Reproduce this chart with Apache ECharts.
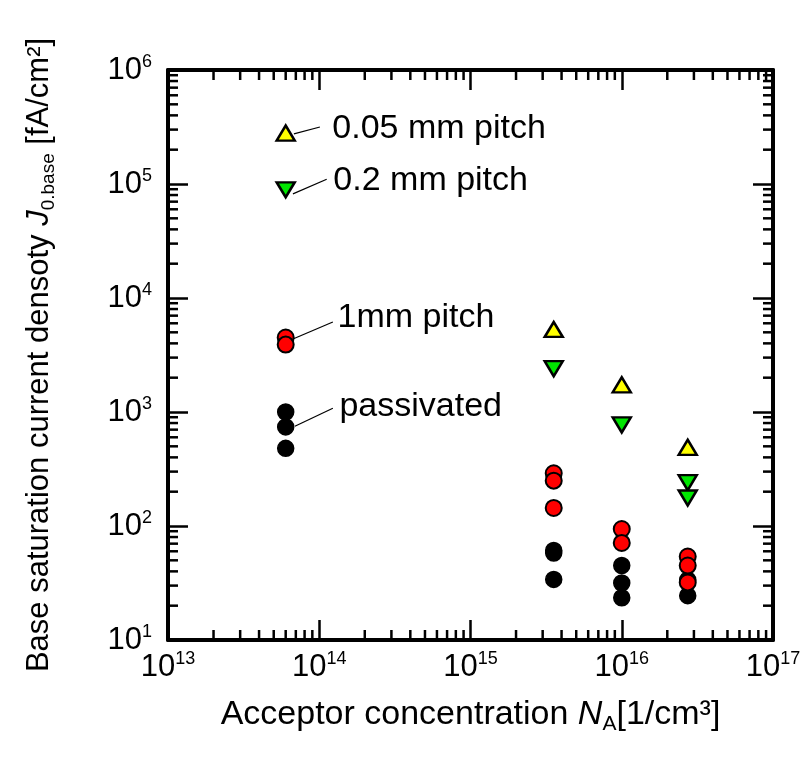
<!DOCTYPE html>
<html lang="en">
<head>
    <meta charset="UTF-8">
    <title>Base saturation current density</title>
    <script src="https://cdn.jsdelivr.net/npm/echarts@6/dist/echarts.min.js"></script>
</head>
<style>
    html, body { margin: 0; padding: 0; background: #fff; }
    #chart { width: 811px; height: 764px; }
</style>
<body>
    <div id="chart"></div>
</body>
<script>
    // data: [N_A (1/cm3), J0.base (fA/cm2)]
    var pitch005 = [[6.0e13, 2.8e5], [3.55e15, 5.3e3], [1.0e16, 1.73e3], [2.73e16, 4.9e2]];
    var pitch02 = [[6.0e13, 8.9e4], [3.55e15, 2.4e3], [1.0e16, 7.7e2], [2.73e16, 2.4e2], [2.73e16, 1.76e2]];
    var pitch1 = [[6.0e13, 4.5e3], [6.0e13, 3.9e3], [3.55e15, 2.9e2], [3.55e15, 2.5e2], [3.55e15, 1.44e2],
        [1.0e16, 94], [1.0e16, 71], [2.73e16, 54], [2.73e16, 45], [2.73e16, 32]];
    var passivated = [[6.0e13, 1.0e3], [6.0e13, 7.4e2], [6.0e13, 4.8e2], [3.55e15, 61], [3.55e15, 58], [3.55e15, 34],
        [1.0e16, 45], [1.0e16, 31.6], [1.0e16, 23.5], [2.73e16, 33.6], [2.73e16, 24.5]];

    // annotations
    var noteNames = ['0.05 mm pitch', '0.2 mm pitch', '1mm pitch', 'passivated'];
    var notePos = [[1.21e14, 3.03e5], [1.23e14, 1.06e5], [1.31e14, 6.68e3], [1.35e14, 1.11e3]];
    var leaders = [
        [[6.8e13, 2.75e5], [1.01e14, 3.16e5]],
        [[6.7e13, 8.2e4], [1.12e14, 1.1e5]],
        [[6.7e13, 4.37e3], [1.23e14, 6.15e3]],
        [[6.9e13, 7.5e2], [1.23e14, 1.08e3]]
    ];

    // axes
    var xRange = [1e13, 1e17];
    var yRange = [1e1, 1e6];
    var xDecades = [13, 14, 15, 16];
    var yDecades = [1, 2, 3, 4, 5];
    var minorSteps = [2, 3, 4, 5, 6, 7, 8, 9];

    var FONT = 'Liberation Sans, Arial, sans-serif';
    var chart = echarts.init(document.getElementById('chart'));

    var xMinor = [], yMinor = [];
    xDecades.forEach(function (d) {
        minorSteps.forEach(function (m) { xMinor.push([m * Math.pow(10, d), yRange[1]]); });
    });
    yDecades.forEach(function (d) {
        minorSteps.forEach(function (m) { yMinor.push([xRange[0], m * Math.pow(10, d)]); });
    });

    function tickLabel(v) {
        var e = Math.round(Math.log10(v));
        return '{b|10}{p|' + e + '}';
    }
    var labelRich = {
        b: { fontSize: 31, fontFamily: FONT, color: '#000', lineHeight: 34 },
        p: { fontSize: 18, fontFamily: FONT, color: '#000', lineHeight: 21, verticalAlign: 'top' }
    };
    function titleRich(size) {
        return {
            t: { fontSize: size, fontFamily: FONT, color: '#000', lineHeight: size + 6 },
            i: { fontSize: size, fontFamily: FONT, color: '#000', lineHeight: size + 6, fontStyle: 'italic' },
            s: { fontSize: Math.round(size * 0.62), fontFamily: FONT, color: '#000',
                lineHeight: Math.round(size * 0.62), verticalAlign: 'bottom' }
        };
    }
    var frame = { show: true, lineStyle: { color: '#000', width: 4 } };
    var majorTick = { show: true, inside: true, length: 20, lineStyle: { color: '#000', width: 2.5 } };

    function minorRender(dir) {
        return function (params, api) {
            var cs = params.coordSys;
            var p = api.coord([api.value(0), api.value(1)]);
            var st = { stroke: '#000', lineWidth: 2.5 };
            var a, b;
            if (dir == 'x') {
                a = { x1: p[0], y1: cs.y + cs.height, x2: p[0], y2: cs.y + cs.height - 10 };
                b = { x1: p[0], y1: cs.y, x2: p[0], y2: cs.y + 10 };
            } else {
                a = { x1: cs.x, y1: p[1], x2: cs.x + 10, y2: p[1] };
                b = { x1: cs.x + cs.width, y1: p[1], x2: cs.x + cs.width - 10, y2: p[1] };
            }
            return {
                type: 'group',
                children: [
                    { type: 'line', shape: a, style: st },
                    { type: 'line', shape: b, style: st }
                ]
            };
        };
    }

    var option = {
        animation: false,
        backgroundColor: '#fff',
        grid: { left: 168, right: 38, top: 70, bottom: 124 },
        xAxis: [{
            type: 'log', logBase: 10, min: xRange[0], max: xRange[1],
            name: '{t|Acceptor concentration }{i|N}{s|A}{t|[1/cm³]}',
            nameLocation: 'middle', nameGap: 55,
            nameTextStyle: { rich: titleRich(34) },
            axisLine: frame, axisTick: majorTick, splitLine: { show: false },
            axisLabel: { margin: 10, formatter: tickLabel, rich: labelRich }
        }, {
            type: 'log', logBase: 10, min: xRange[0], max: xRange[1], position: 'top',
            axisLine: frame, axisTick: majorTick, splitLine: { show: false },
            axisLabel: { show: false }
        }],
        yAxis: [{
            type: 'log', logBase: 10, min: yRange[0], max: yRange[1],
            name: '{t|Base saturation current densoty }{i|J}{s|0.base}{t| [fA/cm²]}',
            nameLocation: 'middle', nameGap: 110, nameRotate: 90,
            nameTextStyle: { rich: titleRich(31) },
            axisLine: frame, axisTick: majorTick, splitLine: { show: false },
            axisLabel: { margin: 16, formatter: tickLabel, rich: labelRich }
        }, {
            type: 'log', logBase: 10, min: yRange[0], max: yRange[1], position: 'right',
            axisLine: frame, axisTick: majorTick, splitLine: { show: false },
            axisLabel: { show: false }
        }],
        series: [{
            type: 'custom', renderItem: minorRender('x'), data: xMinor, silent: true, z: 1
        }, {
            type: 'custom', renderItem: minorRender('y'), data: yMinor, silent: true, z: 1
        }, {
            type: 'lines', coordinateSystem: 'cartesian2d', polyline: false, silent: true,
            lineStyle: { color: '#000', width: 1.2, opacity: 1 },
            data: leaders.map(function (c) { return { coords: c }; })
        }, {
            type: 'scatter', name: 'notes', symbolSize: 1,
            itemStyle: { color: 'rgba(0,0,0,0)', opacity: 1 },
            label: {
                show: true, position: 'right', distance: 0, opacity: 1,
                fontSize: 34, fontFamily: FONT, color: '#000',
                formatter: function (p) { return p.name; }
            },
            data: notePos.map(function (v, i) { return { name: noteNames[i], value: v }; })
        }, {
            type: 'scatter', name: 'passivated', data: passivated,
            symbol: 'circle', symbolSize: 16,
            itemStyle: { color: '#000', borderColor: '#000', borderWidth: 1.5, opacity: 1 }
        }, {
            type: 'scatter', name: '1mm pitch', data: pitch1,
            symbol: 'circle', symbolSize: 16,
            itemStyle: { color: '#ff0000', borderColor: '#000', borderWidth: 2, opacity: 1 }
        }, {
            type: 'scatter', name: '0.2 mm pitch', data: pitch02,
            symbol: 'triangle', symbolRotate: 180, symbolSize: [18, 15],
            itemStyle: { color: '#00e600', borderColor: '#000', borderWidth: 2.5, opacity: 1 }
        }, {
            type: 'scatter', name: '0.05 mm pitch', data: pitch005,
            symbol: 'triangle', symbolSize: [18, 15],
            itemStyle: { color: '#ffff00', borderColor: '#000', borderWidth: 2.5, opacity: 1 }
        }]
    };
    chart.setOption(option);
</script>
</html>
